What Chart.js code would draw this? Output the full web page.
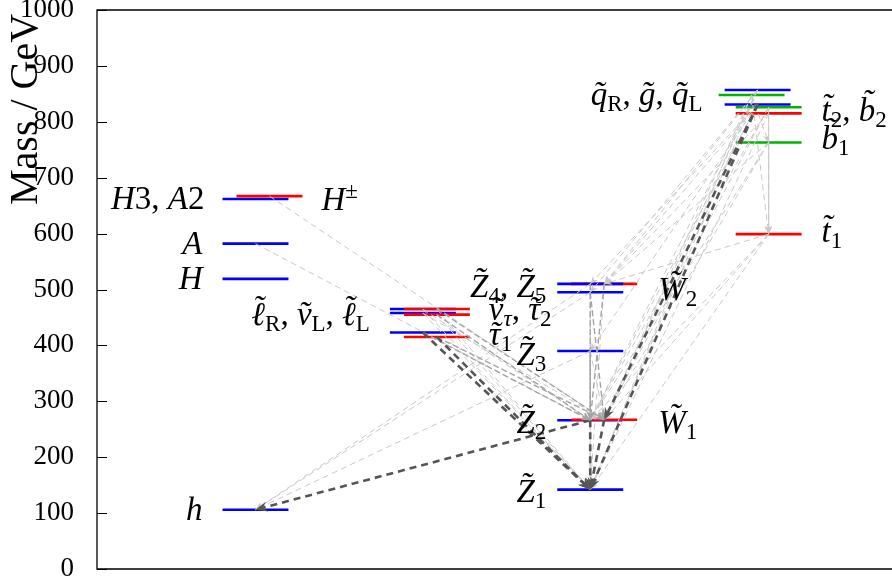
<!DOCTYPE html>
<html>
<head>
<meta charset="utf-8">
<script src="https://cdn.jsdelivr.net/npm/chart.js@4.4.1/dist/chart.umd.min.js"></script>
<style>
  html, body { margin: 0; padding: 0; background: #fff; }
</style>
</head>
<body>
<canvas id="espectro" width="892" height="581"></canvas>
<script>
// Niveles de masa (GeV) leídos del gráfico
// columnas: 1 = Higgs, 2 = sleptones, 3 = neutralinos/charginos, 4 = squarks/gluino
const nivelNombre = ['h', 'H', 'A', 'H3', 'Hc',
                     'sl1', 'sl2', 'sl3', 'sl4', 'sl5', 'sl6',
                     'Z1', 'Z2', 'W1', 'Z3', 'Z4', 'W2', 'Z5',
                     'qR', 'gl', 'qL', 'b2', 't2', 'b1', 't1'];
const nivelMasa = [106, 519, 582, 662, 667,
                   465, 465, 458, 455, 423, 415,
                   142, 266, 267, 390, 495, 510, 510,
                   857, 848, 831, 826, 815, 763, 599];
const nivelColumna = [1, 1, 1, 1, 1,
                      2, 2, 2, 2, 2, 2,
                      3, 3, 3, 3, 3, 3, 3,
                      4, 4, 4, 4, 4, 4, 4];
const nivelTipo = ['b', 'b', 'b', 'b', 'r',
                   'b', 'r', 'b', 'r', 'b', 'r',
                   'b', 'b', 'r', 'b', 'b', 'r', 'b',
                   'b', 'g', 'b', 'g3', 'r3', 'g3', 'r3'];

// Desintegraciones: de -> a, peso (0 débil, 1 medio, 2 dominante)
const decayDe = ['Hc', 'A', 'Z3', 'Z4', 'Z5',
                 'sl1', 'sl2', 'sl3', 'sl4', 'sl1', 'sl3',
                 'Z3', 'Z4', 'Z5', 'W2', 'Z3',
                 'qR', 'qR', 'qR', 'qR', 'qR', 'qL', 'qL', 'qL', 'qL',
                 'gl', 'gl', 'gl', 'gl',
                 'b2', 't2', 'b1', 'b2', 'b2', 't2', 't2', 'b1', 'b1', 'b1',
                 't1', 't1', 't1', 't1',
                 'sl2', 'sl4', 'sl5', 'sl6', 'Z4', 'Z5', 'W2', 'Z3',
                 'sl5', 'sl6', 'Z2', 'Z2', 'W1', 'qL', 'qL'];
const decayA = ['W1', 'Z2', 'h', 'h', 'h',
                'Z1', 'Z1', 'Z1', 'Z1', 'Z2', 'W1',
                'Z1', 'Z1', 'Z1', 'Z1', 'W1',
                'Z1', 'Z2', 'W1', 'Z4', 'W2', 'Z2', 'Z5', 'W2', 'Z3',
                't1', 'b1', 'W1', 'Z1',
                't1', 't1', 't1', 'Z2', 'W1', 'Z1', 'W2', 'Z2', 'W1', 'W2',
                'Z1', 'Z2', 'W1', 'W2',
                'W1', 'Z2', 'Z2', 'W1', 'W1', 'Z2', 'Z2', 'Z2',
                'Z1', 'Z1', 'h', 'Z1', 'Z1', 'Z1', 'W1'];
const decayPeso = [0, 0, 0, 0, 0,
                   0, 0, 0, 0, 0, 0,
                   0, 0, 0, 0, 0,
                   0, 0, 0, 0, 0, 0, 0, 0, 0,
                   0, 0, 0, 0,
                   0, 0, 0, 0, 0, 0, 0, 0, 0, 0,
                   0, 0, 0, 0,
                   1, 1, 1, 1, 1, 1, 1, 1,
                   2, 2, 2, 2, 2, 2, 2];

const marcasY = [0, 100, 200, 300, 400, 500, 600, 700, 800, 900, 1000];

// Estilos
const FUENTE = "'Liberation Serif', 'Times New Roman', serif";
const desplaz = {b: 0, r: 0.0836, g: -0.036, g3: 0.066, r3: 0.066};
const colorTipo = {b: '#0000ff', r: '#ff0000', g: '#00b400', g3: '#00b400', r3: '#ff0000'};
const ANCHO = 0.394;
const estiloDecay = [
    {color: '#c8c8c8', ancho: 1, dash: [6, 4], flecha: 8},
    {color: '#a4a4a4', ancho: 1.4, dash: [6, 3], flecha: 9},
    {color: '#555555', ancho: 2.6, dash: [7, 5], flecha: 12}
];

// Etiquetas: texto, nivel de referencia, lado, separación (px), desplazamiento vertical (px)
const etiquetas = [
    ['H3, A2', 'H3', 'l', 18, 10],
    ['H^±', 'Hc', 'r', 19, 14],
    ['A', 'A', 'l', 20, 10],
    ['H', 'H', 'l', 20, 10],
    ['h', 'h', 'l', 20, 10],
    ['~ℓ_R, ~ν_L, ~ℓ_L', 'sl3', 'l', 20, 12],
    ['~ν_τ, ~τ_2', 'sl4', 'r', 19, 5],
    ['~τ_1', 'sl6', 'r', 19, 8],
    ['~Z_4, ~Z_5', 'Z5', 'l', 11, 13],
    ['~Z_3', 'Z3', 'l', 11, 14],
    ['~Z_2', 'Z2', 'l', 11, 13],
    ['~Z_1', 'Z1', 'l', 11, 12],
    ['~W_2', 'W2', 'r', 21, 16],
    ['~W_1', 'W1', 'r', 21, 13],
    ['~q_R, ~g, ~q_L', 'gl', 'l', 16, 10],
    ['~t_2, ~b_2', 't2', 'r', 20, 8],
    ['~b_1', 'b1', 'r', 20, 7],
    ['~t_1', 't1', 'r', 20, 8]
];

const idx = n => nivelNombre.indexOf(n);
const izq = i => nivelColumna[i] + desplaz[nivelTipo[i]];
const centro = i => izq(i) + ANCHO / 2;

const datasets = [];
nivelNombre.forEach((n, i) => {
    datasets.push({
        label: n,
        data: [{x: izq(i), y: nivelMasa[i]}, {x: izq(i) + ANCHO, y: nivelMasa[i]}],
        borderColor: colorTipo[nivelTipo[i]],
        borderWidth: 2.6,
        pointRadius: 0,
        order: 1000 - i
    });
});
decayDe.forEach((d, j) => {
    const a = idx(d), b = idx(decayA[j]);
    const e = estiloDecay[decayPeso[j]];
    datasets.push({
        label: d + ' -> ' + decayA[j],
        data: [{x: centro(a), y: nivelMasa[a]}, {x: centro(b), y: nivelMasa[b]}],
        borderColor: e.color,
        borderWidth: e.ancho,
        borderDash: e.dash,
        pointRadius: 0,
        flecha: e.flecha,
        order: 300 - decayPeso[j] * 100
    });
});

// Dibuja texto con subíndices, superíndices y tildes
function dibujarEtiqueta(c, texto, x, y, alinear) {
    const segs = [];
    let modo = 'n', tilde = false;
    for (const ch of texto) {
        if (ch === '~') { tilde = true; continue; }
        if (ch === '_' || ch === '^') { modo = ch; continue; }
        segs.push({ch, modo, tilde});
        modo = 'n'; tilde = false;
    }
    segs.forEach(s => {
        const letra = /\p{L}/u.test(s.ch);
        const cursiva = letra && (s.modo === 'n' || s.ch === s.ch.toLowerCase());
        const tam = s.modo === 'n' ? 33 : 23;
        s.font = (cursiva ? 'italic ' : '') + tam + 'px ' + FUENTE;
        s.cursiva = cursiva;
        s.dy = s.modo === '_' ? 6 : (s.modo === '^' ? -12 : 0);
        c.font = s.font;
        s.w = c.measureText(s.ch).width;
    });
    const total = segs.reduce((a, s) => a + s.w, 0);
    let cx = alinear === 'right' ? x - total : x;
    c.fillStyle = '#000';
    c.textAlign = 'left';
    c.textBaseline = 'alphabetic';
    segs.forEach(s => {
        c.font = s.font;
        c.fillText(s.ch, cx, y + s.dy);
        if (s.tilde) {
            const m = c.measureText(s.ch);
            const t = c.measureText('˜');
            const alto = m.actualBoundingBoxAscent;
            const cLetra = (m.actualBoundingBoxRight - m.actualBoundingBoxLeft) / 2;
            const cTilde = (t.actualBoundingBoxRight - t.actualBoundingBoxLeft) / 2;
            const xt = cx + cLetra - cTilde + (s.cursiva ? alto * 0.1 : 0);
            const yt = y + s.dy - alto - 3 - t.actualBoundingBoxDescent;
            c.fillText('˜', xt, yt);
        }
        cx += s.w;
    });
}

const flechas = {
    id: 'flechas',
    afterDatasetsDraw(chart) {
        const c = chart.ctx;
        chart.data.datasets.forEach((ds, k) => {
            if (!ds.flecha) return;
            const pts = chart.getDatasetMeta(k).data;
            const p0 = pts[0], p1 = pts[1];
            const ang = Math.atan2(p1.y - p0.y, p1.x - p0.x);
            const L = ds.flecha, W = ds.flecha * 0.42;
            c.save();
            c.translate(p1.x, p1.y);
            c.rotate(ang);
            c.fillStyle = ds.borderColor;
            c.beginPath();
            c.moveTo(0, 0);
            c.lineTo(-L, -W);
            c.lineTo(-L * 0.65, 0);
            c.lineTo(-L, W);
            c.closePath();
            c.fill();
            c.restore();
        });
    }
};

const marco = {
    id: 'marco',
    afterDraw(chart) {
        const c = chart.ctx;
        const a = chart.chartArea;
        const ys = chart.scales.y, xs = chart.scales.x;
        c.save();
        // caja (sin lado derecho, queda fuera de la imagen)
        c.strokeStyle = '#000';
        c.lineWidth = 1.3;
        c.beginPath();
        c.moveTo(chart.width, a.top); c.lineTo(a.left, a.top);
        c.lineTo(a.left, a.bottom); c.lineTo(chart.width, a.bottom);
        c.stroke();
        // marcas hacia dentro
        c.lineWidth = 1;
        marcasY.forEach(v => {
            const py = Math.round(ys.getPixelForValue(v)) + 0.5;
            c.beginPath(); c.moveTo(a.left, py); c.lineTo(a.left + 10, py); c.stroke();
        });
        // título del eje
        c.fillStyle = '#000';
        c.font = '40px ' + FUENTE;
        c.translate(37, 205);
        c.rotate(-Math.PI / 2);
        c.textAlign = 'left';
        c.textBaseline = 'alphabetic';
        c.fillText('Mass / GeV', 0, 0);
        c.restore();
        // etiquetas de partículas
        c.save();
        etiquetas.forEach(([txt, nivel, lado, sep, dy]) => {
            const i = idx(nivel);
            const py = ys.getPixelForValue(nivelMasa[i]) + dy;
            if (lado === 'l') {
                dibujarEtiqueta(c, txt, xs.getPixelForValue(izq(i)) - sep, py, 'right');
            } else {
                dibujarEtiqueta(c, txt, xs.getPixelForValue(izq(i) + ANCHO) + sep, py, 'left');
            }
        });
        c.restore();
    }
};

const chart = new Chart(document.getElementById('espectro').getContext('2d'), {
    type: 'line',
    data: {datasets: datasets},
    options: {
        responsive: false,
        devicePixelRatio: 1,
        animation: false,
        events: [],
        layout: {padding: {top: 10, bottom: 12, left: 0, right: 0}},
        plugins: {legend: {display: false}, tooltip: {enabled: false}},
        elements: {line: {tension: 0, fill: false}},
        scales: {
            x: {type: 'linear', min: 0.25, max: 5.0, display: false},
            y: {
                type: 'linear', min: 0, max: 1000,
                afterFit(s) { s.width = 97; s.paddingTop = 0; s.paddingBottom = 0; },
                afterBuildTicks(s) { s.ticks = marcasY.map(v => ({value: v})); },
                grid: {display: false},
                border: {display: false},
                ticks: {
                    color: '#000', padding: 15,
                    font: {family: FUENTE, size: 27},
                    callback: v => String(v)
                }
            }
        }
    },
    plugins: [flechas, marco]
});
</script>
</body>
</html>
